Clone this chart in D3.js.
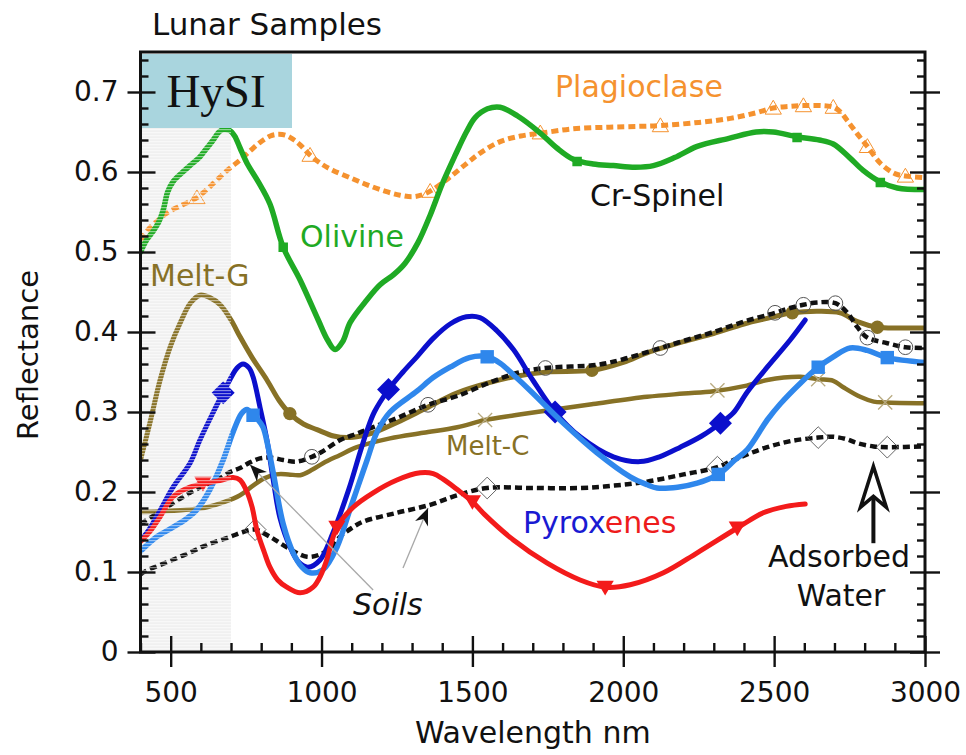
<!DOCTYPE html>
<html>
<head>
<meta charset="utf-8">
<script src="https://cdn.jsdelivr.net/npm/d3@7"></script>
<style>
  html, body { margin: 0; padding: 0; background: #fff; }
  svg { display: block; font-family: "DejaVu Sans", Verdana, sans-serif; }
</style>
</head>
<body>
<svg id="chart" width="966" height="755"></svg>
<script>
// Reflectance spectra of lunar samples, wavelength (nm) vs reflectance.
const olivine = [[400,0.500],[420,0.515],[440,0.525],[460,0.537],[475,0.552],[490,0.575],[508,0.588],[540,0.600],[570,0.610],[597,0.619],[620,0.630],[641,0.640],[660,0.650],[674,0.653],[695,0.652],[712,0.645],[730,0.630],[753,0.611],[790,0.588],[829,0.560],[873,0.506],[929,0.465],[989,0.415],[1020,0.390],[1045,0.378],[1070,0.388],[1095,0.412],[1150,0.440],[1194,0.459],[1240,0.472],[1277,0.486],[1320,0.512],[1360,0.546],[1400,0.585],[1443,0.621],[1480,0.650],[1509,0.668],[1550,0.679],[1592,0.681],[1650,0.670],[1724,0.649],[1780,0.630],[1834,0.616],[1900,0.610],[1967,0.608],[2040,0.606],[2100,0.608],[2170,0.618],[2245,0.632],[2350,0.642],[2440,0.650],[2497,0.650],[2576,0.644],[2650,0.640],[2696,0.635],[2750,0.618],[2795,0.602],[2850,0.588],[2908,0.580],[3000,0.578]];
const olivineMarks = [[873,0.506],[1847,0.613],[2576,0.643],[2852,0.587]];

const plagioclase = [[400,0.515],[430,0.530],[460,0.540],[488,0.549],[540,0.559],[587,0.568],[620,0.578],[653,0.590],[690,0.603],[730,0.615],[765,0.627],[796,0.637],[830,0.645],[852,0.647],[880,0.646],[905,0.641],[929,0.634],[962,0.621],[1000,0.610],[1038,0.602],[1100,0.592],[1151,0.584],[1210,0.576],[1260,0.571],[1300,0.569],[1330,0.571],[1360,0.576],[1420,0.592],[1482,0.611],[1527,0.624],[1592,0.638],[1660,0.645],[1735,0.649],[1834,0.654],[1950,0.656],[2050,0.657],[2123,0.658],[2250,0.662],[2355,0.667],[2440,0.674],[2497,0.680],[2550,0.682],[2597,0.683],[2660,0.683],[2696,0.681],[2720,0.675],[2743,0.664],[2775,0.648],[2809,0.632],[2852,0.611],[2900,0.598],[2935,0.595],[3000,0.593]];
const plagioclaseMarks = [[587,0.568],[962,0.621],[1360,0.576],[1725,0.649],[2123,0.658],[2497,0.680],[2597,0.683],[2696,0.681],[2809,0.632],[2935,0.595]];

const meltG = [[400,0.240],[431,0.286],[465,0.340],[500,0.383],[531,0.411],[565,0.436],[597,0.446],[630,0.443],[664,0.434],[700,0.415],[730,0.394],[770,0.368],[819,0.340],[860,0.314],[895,0.298],[940,0.285],[985,0.278],[1040,0.270],[1084,0.268],[1130,0.270],[1171,0.274],[1250,0.287],[1337,0.303],[1450,0.324],[1559,0.337],[1650,0.345],[1748,0.350],[1896,0.352],[2000,0.362],[2079,0.374],[2200,0.388],[2299,0.398],[2400,0.410],[2477,0.417],[2560,0.424],[2643,0.426],[2719,0.424],[2776,0.413],[2842,0.406],[2920,0.405],[3000,0.405]];
const meltGMarks = [[895,0.298],[1896,0.352],[2560,0.424],[2842,0.406]];

const meltC = [[400,0.175],[480,0.176],[564,0.178],[620,0.181],[674,0.187],[730,0.196],[773,0.208],[810,0.217],[850,0.222],[890,0.222],[929,0.221],[970,0.228],[1005,0.236],[1060,0.246],[1117,0.256],[1227,0.267],[1337,0.274],[1450,0.281],[1542,0.290],[1640,0.296],[1748,0.302],[1900,0.310],[2079,0.319],[2200,0.323],[2299,0.326],[2409,0.333],[2477,0.340],[2587,0.344],[2646,0.341],[2696,0.339],[2729,0.331],[2785,0.319],[2830,0.313],[2868,0.312],[3000,0.311]];
const meltCMarks = [[1542,0.290],[2312,0.327],[2646,0.341],[2868,0.312]];

const soilUpper = [[400,0.160],[450,0.172],[508,0.186],[564,0.199],[610,0.208],[653,0.215],[697,0.225],[730,0.230],[763,0.237],[796,0.242],[830,0.243],[873,0.240],[918,0.238],[968,0.244],[1000,0.250],[1062,0.265],[1117,0.273],[1171,0.281],[1260,0.294],[1353,0.309],[1450,0.320],[1559,0.337],[1650,0.349],[1742,0.355],[1913,0.359],[2000,0.366],[2123,0.380],[2210,0.390],[2299,0.400],[2400,0.413],[2503,0.424],[2553,0.430],[2597,0.434],[2643,0.437],[2703,0.436],[2743,0.424],[2776,0.406],[2809,0.393],[2875,0.386],[2935,0.381],[3000,0.380]];
const soilUpperMarks = [[968,0.244],[1353,0.309],[1742,0.355],[2123,0.380],[2503,0.424],[2597,0.434],[2703,0.436],[2809,0.393],[2935,0.381]];

const soilLower = [[400,0.097],[421,0.102],[480,0.111],[531,0.119],[580,0.127],[620,0.134],[697,0.144],[740,0.150],[780,0.153],[829,0.144],[885,0.131],[952,0.119],[995,0.122],[1030,0.130],[1061,0.144],[1100,0.155],[1138,0.163],[1250,0.174],[1360,0.184],[1450,0.196],[1549,0.205],[1700,0.205],[1857,0.205],[1970,0.208],[2079,0.213],[2200,0.222],[2312,0.231],[2365,0.240],[2477,0.256],[2560,0.264],[2646,0.268],[2696,0.269],[2740,0.266],[2776,0.261],[2830,0.257],[2875,0.256],[3000,0.257]];
const soilLowerMarks = [[780,0.153],[1549,0.205],[2312,0.231],[2646,0.268],[2875,0.256]];

const pyroxeneDark = [[400,0.140],[421,0.149],[465,0.177],[508,0.206],[564,0.236],[597,0.265],[635,0.295],[674,0.324],[720,0.355],[740,0.360],[760,0.355],[773,0.344],[796,0.306],[819,0.265],[840,0.215],[862,0.168],[896,0.131],[925,0.112],[955,0.106],[995,0.115],[1038,0.149],[1090,0.203],[1128,0.250],[1151,0.277],[1175,0.300],[1222,0.328],[1270,0.350],[1316,0.369],[1370,0.392],[1426,0.410],[1480,0.419],[1525,0.418],[1580,0.402],[1636,0.378],[1700,0.340],[1774,0.300],[1857,0.269],[1967,0.244],[2056,0.238],[2120,0.244],[2189,0.256],[2260,0.270],[2322,0.286],[2365,0.299],[2411,0.325],[2477,0.356],[2553,0.390],[2603,0.415]];
const pyroxeneDarkMarks = [[674,0.324],[1222,0.328],[1774,0.300],[2322,0.286]];

const pyroxeneLight = [[400,0.126],[454,0.144],[508,0.156],[550,0.166],[587,0.178],[630,0.203],[674,0.240],[707,0.275],[735,0.298],[753,0.303],[773,0.296],[790,0.290],[806,0.281],[822,0.258],[840,0.224],[873,0.160],[906,0.124],[935,0.106],[962,0.099],[1005,0.103],[1051,0.131],[1094,0.178],[1117,0.203],[1151,0.240],[1184,0.275],[1227,0.300],[1316,0.326],[1370,0.343],[1426,0.356],[1490,0.368],[1549,0.369],[1592,0.361],[1640,0.345],[1691,0.327],[1802,0.286],[1913,0.249],[2023,0.219],[2080,0.209],[2112,0.205],[2180,0.206],[2245,0.211],[2315,0.222],[2370,0.240],[2411,0.253],[2477,0.290],[2520,0.310],[2587,0.336],[2646,0.356],[2696,0.369],[2752,0.380],[2809,0.377],[2875,0.368],[3000,0.362]];
const pyroxeneLightMarks = [[773,0.296],[1549,0.369],[2315,0.222],[2646,0.356],[2875,0.368]];

const pyroxeneRed = [[400,0.138],[430,0.150],[465,0.169],[508,0.194],[564,0.206],[620,0.211],[670,0.215],[707,0.218],[730,0.215],[753,0.200],[770,0.181],[786,0.152],[810,0.125],[829,0.106],[855,0.090],[885,0.081],[929,0.074],[972,0.081],[1000,0.098],[1017,0.115],[1051,0.156],[1105,0.181],[1171,0.199],[1250,0.215],[1327,0.224],[1370,0.223],[1403,0.216],[1450,0.203],[1500,0.188],[1540,0.172],[1636,0.140],[1748,0.111],[1857,0.090],[1940,0.081],[2023,0.084],[2133,0.099],[2245,0.124],[2378,0.155],[2464,0.174],[2540,0.182],[2603,0.185]];
const pyroxeneRedMarks = [[607,0.211],[1051,0.156],[1500,0.188],[1940,0.081],[2378,0.155]];

const xMajorTicks = [500, 1000, 1500, 2000, 2500, 3000];
const yMajorTicks = [0, 0.1, 0.2, 0.3, 0.4, 0.5, 0.6, 0.7];
const hysiBand = [400, 700];

// ---------------------------------------------------------------
const svg = d3.select("#chart");
const L = 140.5, R = 925, T = 52, B = 652;
const x = d3.scaleLinear().domain([400, 3000]).range([L, R]);
const y = d3.scaleLinear().domain([0, 0.75]).range([B, T]);

const defs = svg.append("defs");
const pat = defs.append("pattern").attr("id", "stripes")
  .attr("patternUnits", "userSpaceOnUse").attr("width", 8).attr("height", 3);
pat.append("rect").attr("x", 0).attr("y", 0).attr("width", 8).attr("height", 1.2)
  .attr("fill", "#ffffff").attr("fill-opacity", 0.5);
defs.append("clipPath").attr("id", "plotclip").append("rect")
  .attr("x", L).attr("y", T).attr("width", R - L).attr("height", B - T);

const hysiTop = 128;
// HySI band underlay
svg.append("rect").attr("x", x(hysiBand[0])).attr("y", hysiTop)
  .attr("width", x(hysiBand[1]) - x(hysiBand[0])).attr("height", B - hysiTop)
  .attr("fill", "#f0f0f0");

const line = d3.line().x(d => x(d[0])).y(d => y(d[1])).curve(d3.curveCatmullRom.alpha(0.5));
const plot = svg.append("g").attr("clip-path", "url(#plotclip)");

const C = {
  green: "#1faa24", orange: "#f5922f", olive: "#877126",
  dark: "#0b0fcc", light: "#2f87ec", red: "#f31b1b", black: "#111111"
};

function curve(data, color, width, dash) {
  plot.append("path").datum(data).attr("d", line)
    .attr("fill", "none").attr("stroke", color).attr("stroke-width", width)
    .attr("stroke-linejoin", "round").attr("stroke-linecap", dash ? "butt" : "round")
    .attr("stroke-dasharray", dash || null);
}
function marks(data, type, size, fill, stroke, sw) {
  plot.selectAll(null).data(data).enter().append("path")
    .attr("d", d3.symbol().type(type).size(size))
    .attr("transform", d => `translate(${x(d[0])},${y(d[1])})`)
    .attr("fill", fill).attr("stroke", stroke || "none").attr("stroke-width", sw || 0);
}
const diamondSym = { draw(ctx, size) { const r = Math.sqrt(size) / 1.2; ctx.moveTo(0, -r); ctx.lineTo(r, 0); ctx.lineTo(0, r); ctx.lineTo(-r, 0); ctx.closePath(); } };
const triDown = { draw(ctx, size) { const r = Math.sqrt(size) / 1.6; ctx.moveTo(-r, -r * 0.75); ctx.lineTo(r, -r * 0.75); ctx.lineTo(0, r * 0.95); ctx.closePath(); } };
const triUp = { draw(ctx, size) { const r = Math.sqrt(size) / 1.6; ctx.moveTo(-r, r * 0.75); ctx.lineTo(r, r * 0.75); ctx.lineTo(0, -r * 0.95); ctx.closePath(); } };
const cross = { draw(ctx, size) { const r = Math.sqrt(size) / 2; ctx.moveTo(-r, -r); ctx.lineTo(r, r); ctx.moveTo(r, -r); ctx.lineTo(-r, r); } };

// Olivine & plagioclase
curve(plagioclase, C.orange, 5, "7,4");
marks(plagioclaseMarks, triUp, 170, "none", C.orange, 1);
curve(olivine, C.green, 5.5);
marks(olivineMarks, d3.symbolSquare, 90, C.green);

// Melts
curve(meltC, C.olive, 4.5);
marks(meltCMarks, cross, 200, "none", "#b8aa80", 1.3);
curve(meltG, C.olive, 5);
marks(meltGMarks, d3.symbolCircle, 140, C.olive);

// Soils
curve(soilUpper, C.black, 4.5, "7,4");
marks(soilUpperMarks, d3.symbolCircle, 170, "none", "#555", 1);
curve(soilLower, C.black, 4.5, "7,4");
marks(soilLowerMarks, diamondSym, 170, "none", "#666", 1);

// Pyroxenes
curve(pyroxeneDark, C.dark, 5);
marks(pyroxeneDarkMarks, diamondSym, 190, C.dark);
curve(pyroxeneLight, C.light, 5.5);
marks(pyroxeneLightMarks, d3.symbolSquare, 180, C.light);
curve(pyroxeneRed, C.red, 5);
marks(pyroxeneRedMarks, triDown, 190, C.red);

// striped HySI band overlay
svg.append("rect").attr("x", x(hysiBand[0])).attr("y", hysiTop)
  .attr("width", x(hysiBand[1]) - x(hysiBand[0])).attr("height", B - hysiTop)
  .attr("fill", "url(#stripes)");

// HySI label box
svg.append("rect").attr("x", L).attr("y", T + 2).attr("width", 292 - L).attr("height", hysiTop - T - 2)
  .attr("fill", "#a9d5de");
svg.append("text").attr("x", 216).attr("y", 107).attr("text-anchor", "middle")
  .attr("font-family", "'Liberation Serif', 'DejaVu Serif', serif").attr("font-size", 47)
  .attr("fill", "#111").text("HySI");

// ---------------- axes ----------------
const fmtY = d => d === 0 ? "0" : d3.format(".1f")(d);
const axisFont = 28;
const yMinor = d3.range(0, 0.75, 0.02).filter(v => Math.abs(v * 10 - Math.round(v * 10)) > 1e-6);
const xMinor = d3.range(400, 3000, 100).filter(v => v % 500 !== 0);

const gLeft = svg.append("g").attr("transform", `translate(${L},0)`)
  .call(d3.axisLeft(y).tickValues(yMajorTicks).tickSize(13).tickPadding(9).tickFormat(fmtY));
gLeft.selectAll(".tick line").attr("x1", 15).attr("x2", -13);
svg.append("g").attr("transform", `translate(${L},0)`)
  .call(d3.axisRight(y).tickValues(yMinor).tickSize(8).tickFormat(""));

const gRight = svg.append("g").attr("transform", `translate(${R},0)`)
  .call(d3.axisRight(y).tickValues(yMajorTicks).tickSize(15).tickFormat(""));
gRight.selectAll(".tick line").attr("x1", -15).attr("x2", 15);
svg.append("g").attr("transform", `translate(${R},0)`)
  .call(d3.axisLeft(y).tickValues(yMinor).tickSize(8).tickFormat(""));

const gBottom = svg.append("g").attr("transform", `translate(0,${B})`)
  .call(d3.axisBottom(x).tickValues(xMajorTicks).tickSize(15).tickPadding(15).tickFormat(d3.format("d")));
gBottom.selectAll(".tick line").attr("y1", -16).attr("y2", 15);
svg.append("g").attr("transform", `translate(0,${B})`)
  .call(d3.axisTop(x).tickValues(xMinor).tickSize(9).tickFormat(""));

svg.selectAll(".domain").remove();
svg.selectAll(".tick line").attr("stroke", "#111").attr("stroke-width", 2.4);
svg.selectAll(".tick text").attr("font-size", axisFont).attr("fill", "#111")
  .attr("font-family", "'DejaVu Sans', sans-serif");

// frame
svg.append("rect").attr("x", L).attr("y", T).attr("width", R - L).attr("height", B - T)
  .attr("fill", "none").attr("stroke", "#111").attr("stroke-width", 3);

// titles
svg.append("text").attr("x", 152).attr("y", 35).attr("font-size", 31).attr("fill", "#111").text("Lunar Samples");
svg.append("text").attr("x", (L + R) / 2).attr("y", 743).attr("text-anchor", "middle")
  .attr("font-size", 30).attr("fill", "#111").text("Wavelength nm");
svg.append("text").attr("transform", `translate(38,${(T + B) / 2 + 3}) rotate(-90)`).attr("text-anchor", "middle")
  .attr("font-size", 29).attr("fill", "#111").text("Reflectance");

// series labels
function label(txt, px, py, color, size, extra) {
  const t = svg.append("text").attr("x", px).attr("y", py).attr("font-size", size || 30)
    .attr("fill", color).text(txt);
  if (extra) extra(t);
  return t;
}
label("Plagioclase", 555, 97, C.orange);
label("Cr-Spinel", 590, 206, "#111");
label("Olivine", 300, 247, C.green);
label("Melt-G", 150, 286, C.olive);
label("Melt-C", 446, 455, C.olive, 26);
const pyx = svg.append("text").attr("x", 523).attr("y", 533).attr("font-size", 30);
pyx.append("tspan").attr("fill", "#1a1ad2").text("Pyrox");
pyx.append("tspan").attr("fill", "#ee1c1c").text("enes");
label("Soils", 353, 615, "#111", 30, t => t.attr("font-style", "italic"));
label("Adsorbed", 839, 567, "#111", 30, t => t.attr("text-anchor", "middle"));
label("Water", 841, 606, "#111", 30, t => t.attr("text-anchor", "middle"));

// pointer arrows to the soil spectra
const soilPointers = [
  { from: [1171, 0.0775], to: [763, 0.234] },
  { from: [1270, 0.105], to: [1353, 0.180] }
];
soilPointers.forEach(p => {
  const x0 = x(p.from[0]), y0 = y(p.from[1]), x1 = x(p.to[0]), y1 = y(p.to[1]);
  const ang = Math.atan2(y1 - y0, x1 - x0) * 180 / Math.PI;
  svg.append("line").attr("x1", x0).attr("y1", y0).attr("x2", x1).attr("y2", y1)
    .attr("stroke", "#a8a8a8").attr("stroke-width", 1.3);
  svg.append("path").attr("d", "M0,0 L-17,-7 L-12,0 L-17,7 Z")
    .attr("transform", `translate(${x1},${y1}) rotate(${ang})`).attr("fill", "#111");
});

// adsorbed water arrow
const waterNm = 2829, waterTip = 0.232, waterTail = 0.136;
const wx = x(waterNm), wt = y(waterTip);
svg.append("line").attr("x1", wx).attr("y1", y(waterTail)).attr("x2", wx).attr("y2", wt + 30)
  .attr("stroke", "#111").attr("stroke-width", 4);
svg.append("path").attr("d", `M${wx},${wt} L${wx - 13},${wt + 41} L${wx},${wt + 30} L${wx + 13},${wt + 41} Z`)
  .attr("fill", "#fff").attr("stroke", "#111").attr("stroke-width", 3.5).attr("stroke-linejoin", "miter");
</script>
</body>
</html>
